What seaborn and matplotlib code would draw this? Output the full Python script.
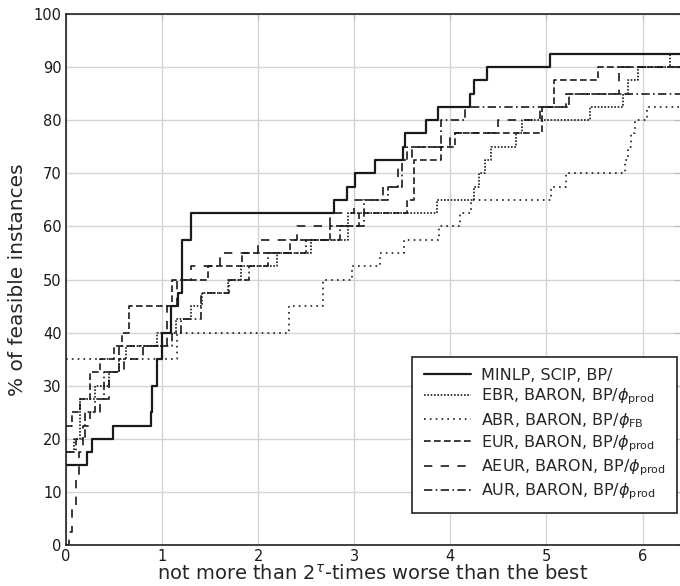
import numpy as np
import pandas as pd
import seaborn as sns
import matplotlib.pyplot as plt

# performance profile: tau value where each step happens, and % of instances reached
minlp_x = [0, 0.22, 0.27, 0.49, 0.88, 0.90, 0.95, 1.0, 1.09, 1.17, 1.21, 1.30, 2.79, 2.92,
           3.01, 3.22, 3.51, 3.53, 3.75, 3.87, 4.20, 4.25, 4.38, 5.04]
minlp_y = [15, 17.5, 20, 22.5, 25, 30, 35, 40, 45, 47.5, 57.5, 62.5, 65, 67.5,
           70, 72.5, 75, 77.5, 80, 82.5, 85, 87.5, 90, 92.5]

ebr_x = [0, 0.08, 0.15, 0.3, 0.45, 0.55, 0.62, 0.95, 1.14, 1.3, 1.42, 1.69, 1.82, 2.2,
         2.55, 2.93, 3.86, 4.25, 4.3, 4.36, 4.42, 4.68, 4.75, 5.45, 5.8, 5.85, 5.95, 6.29]
ebr_y = [17.5, 20, 27.5, 30, 32.5, 35, 37.5, 40, 42.5, 45, 47.5, 50, 52.5, 55,
         57.5, 62.5, 65, 67.5, 70, 72.5, 75, 77.5, 80, 82.5, 85, 87.5, 90, 92.5]

abr_x = [0, 1.16, 2.32, 2.67, 2.98, 3.27, 3.52, 3.88, 4.1, 4.22, 5.05, 5.2, 5.82, 5.85,
         5.88, 5.92, 6.05]
abr_y = [35, 40, 45, 50, 52.5, 55, 57.5, 60, 62.5, 65, 67.5, 70, 72.5, 75,
         77.5, 80, 82.5]

eur_x = [0, 0.06, 0.15, 0.25, 0.35, 0.5, 0.58, 0.66, 1.1, 1.48, 1.83, 2.33, 2.75, 3.05,
         3.55, 3.62, 3.9, 4.05, 4.95, 5.08, 5.54]
eur_y = [22.5, 25, 27.5, 32.5, 35, 37.5, 40, 45, 50, 52.5, 55, 57.5, 60, 62.5,
         65, 72.5, 75, 77.5, 82.5, 87.5, 90]

aeur_x = [0, 0.03, 0.06, 0.1, 0.14, 0.18, 0.25, 0.35, 0.45, 0.6, 0.8, 1.05, 1.15, 1.3,
          1.6, 2.0, 2.4, 2.75, 3.0, 3.3, 3.45, 3.6, 4.0, 4.5, 4.93, 5.2, 5.76]
aeur_y = [0, 2.5, 7.5, 12.5, 17.5, 22.5, 25, 27.5, 32.5, 35, 37.5, 45, 50, 52.5,
          55, 57.5, 60, 62.5, 65, 67.5, 72.5, 75, 77.5, 80, 82.5, 85, 90]

aur_x = [0, 0.1, 0.2, 0.3, 0.4, 0.55, 1.1, 1.2, 1.4, 1.7, 1.9, 2.1, 2.5, 2.85, 3.1,
         3.35, 3.5, 3.55, 3.9, 4.15, 5.24]
aur_y = [17.5, 20, 25, 27.5, 32.5, 37.5, 40, 42.5, 47.5, 50, 52.5, 55, 57.5, 60, 65,
         67.5, 72.5, 75, 80, 82.5, 85]

labels = ['MINLP, SCIP, BP/',
          r'EBR, BARON, BP/$\phi_{\mathsf{prod}}$',
          r'ABR, BARON, BP/$\phi_{\mathsf{FB}}$',
          r'EUR, BARON, BP/$\phi_{\mathsf{prod}}$',
          r'AEUR, BARON, BP/$\phi_{\mathsf{prod}}$',
          r'AUR, BARON, BP/$\phi_{\mathsf{prod}}$']
styles = ['-', (0, (1, 1)), (0, (1, 2.5)), (0, (4, 2)), (0, (5, 5)), (0, (5, 2, 1, 2))]
widths = [1.6, 1.2, 1.2, 1.2, 1.2, 1.2]

xmax = 6.39

sns.set_style("white")
plt.rcParams['font.family'] = ['DejaVu Sans']
plt.rcParams['mathtext.fontset'] = 'dejavusans'

fig = plt.figure(figsize=(6.8, 5.86), dpi=100)
ax = fig.add_axes([66 / 680, 1 - 545 / 586, 1 - 66 / 680, (545 - 14) / 586])

series = [(minlp_x, minlp_y), (ebr_x, ebr_y), (abr_x, abr_y),
          (eur_x, eur_y), (aeur_x, aeur_y), (aur_x, aur_y)]
for (xs, ys), lab, ls, lw in zip(series, labels, styles, widths):
    df = pd.DataFrame({'tau': xs + [xmax], 'pct': ys + [ys[-1]]})
    sns.lineplot(data=df, x='tau', y='pct', ax=ax, label=lab, color='#1a1a1a',
                 linestyle=ls, linewidth=lw, drawstyle='steps-post', sort=False)

ax.set_xlim(0, xmax)
ax.set_ylim(0, 100)
ax.set_xticks(range(0, 7))
ax.set_yticks(range(0, 101, 10))
ax.grid(True, color='#d4d4d4', linewidth=1)
ax.set_axisbelow(True)
ax.tick_params(direction='in', top=True, right=True, labelsize=10.5, length=4,
               color='#bbbbbb', pad=3, labelcolor='#1a1a1a')
for side in ['left', 'bottom', 'top']:
    ax.spines[side].set_color('#222222')
    ax.spines[side].set_linewidth(1.2)
ax.spines['right'].set_visible(False)

ax.set_xlabel(r'not more than $2^{\tau}$-times worse than the best', fontsize=14, labelpad=0)
ax.set_ylabel('% of feasible instances', fontsize=14.5, labelpad=5)

ax.legend(loc='lower right', bbox_to_anchor=(0.995, 0.06), borderaxespad=0,
          frameon=True, fancybox=False, edgecolor='#222222', framealpha=1,
          fontsize=11.5, handlelength=3.0, handletextpad=0.6, labelspacing=0.22,
          borderpad=0.7)
leg = ax.get_legend()
leg.get_frame().set_linewidth(1.2)

fig.savefig('out.png', dpi=100)
